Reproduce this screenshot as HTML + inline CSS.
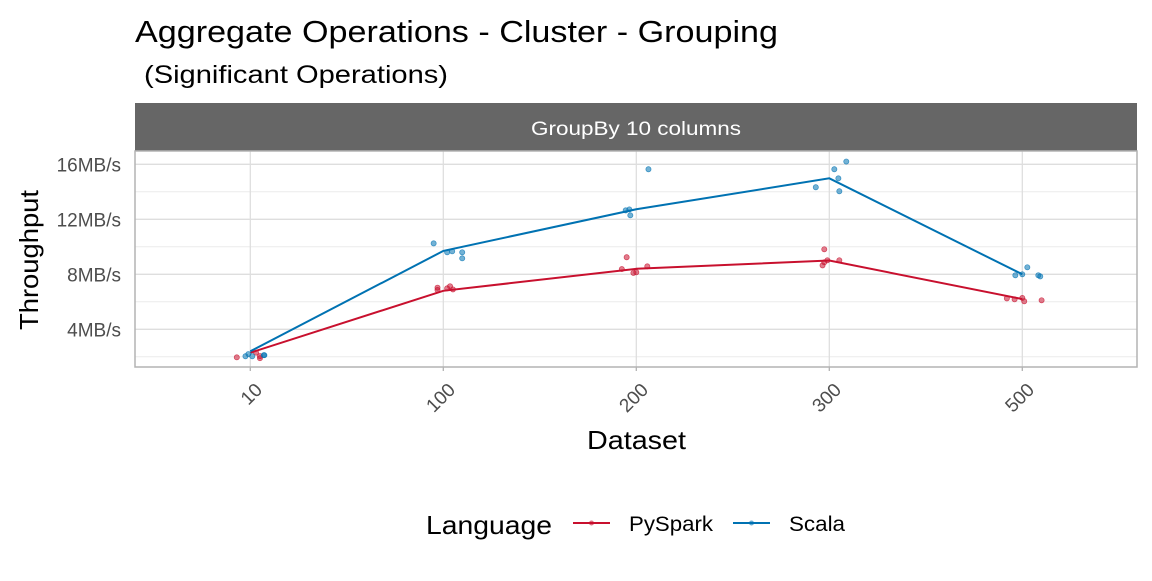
<!DOCTYPE html>
<html><head><meta charset="utf-8"><style>
body{margin:0;background:#fff;width:1152px;height:576px;overflow:hidden}
text{font-family:"Liberation Sans",Arial,sans-serif}
</style></head><body>
<svg id="chart" width="1152" height="576" xmlns="http://www.w3.org/2000/svg">
<text x="135" y="42" font-size="31" fill="#000" textLength="643" lengthAdjust="spacingAndGlyphs">Aggregate Operations - Cluster - Grouping</text>
<text x="144" y="83" font-size="25" fill="#000" textLength="304" lengthAdjust="spacingAndGlyphs">(Significant Operations)</text>
<rect x="135" y="103" width="1002" height="48" fill="#666666"/>
<text x="531" y="135" font-size="19" fill="#fff" textLength="210" lengthAdjust="spacingAndGlyphs">GroupBy 10 columns</text>
<g id="grid"></g>
<g id="marks"></g>
<rect x="135" y="151" width="1002" height="216" fill="none" stroke="#b3b3b3" stroke-width="1.5"/>
<g id="axes"></g>
<text transform="translate(38,190) rotate(-90)" font-size="26" text-anchor="end" fill="#000" textLength="140" lengthAdjust="spacingAndGlyphs">Throughput</text>
<text x="587" y="449" font-size="26" fill="#000" textLength="99" lengthAdjust="spacingAndGlyphs">Dataset</text>
<g>
<text x="426" y="534" font-size="26" fill="#000" textLength="126" lengthAdjust="spacingAndGlyphs">Language</text>
<g>
<line x1="573" y1="523" x2="610" y2="523" stroke="#C8102E" stroke-width="2"/><circle cx="591.5" cy="523" r="2.5" fill="#C8102E" fill-opacity="0.6"/>
<text x="629" y="531" font-size="21" fill="#000" textLength="84" lengthAdjust="spacingAndGlyphs">PySpark</text></g>
<g>
<line x1="733" y1="523" x2="770" y2="523" stroke="#0072B2" stroke-width="2"/><circle cx="751.5" cy="523" r="2.5" fill="#0072B2" fill-opacity="0.6"/>
<text x="789" y="531" font-size="21" fill="#000" textLength="56" lengthAdjust="spacingAndGlyphs">Scala</text></g>
</g>
</svg>
<script>
const categories=["10","100","200","300","500"];
const yTicks=[4,8,12,16];
const yMinor=[2,6,10,14];
const pysparkMean=[2.3,6.8,8.4,9.0,6.2];
const scalaMean=[2.4,9.7,12.73,14.98,8.0];
// jittered observations: [categoryIndex, jitterOffset, value]
const pysparkPts=[[0,-0.07,1.96],[0,0.03,2.3],[0,0.05,2.05],[0,0.05,1.9],[1,-0.03,7.03],[1,-0.03,6.86],[1,0.02,6.98],[1,0.035,7.13],[1,0.05,6.9],[2,-0.075,8.38],[2,-0.05,9.24],[2,-0.015,8.1],[2,0.0,8.15],[2,0.057,8.58],[3,-0.035,8.65],[3,-0.026,9.82],[3,-0.026,8.87],[3,-0.01,9.02],[3,0.052,9.02],[4,-0.08,6.25],[4,-0.04,6.18],[4,0.0,6.28],[4,0.01,6.04],[4,0.1,6.11]];
const scalaPts=[[0,-0.025,2.04],[0,-0.01,2.2],[0,0.01,2.04],[0,0.07,2.12],[0,0.073,2.12],[1,-0.05,10.25],[1,0.02,9.6],[1,0.046,9.67],[1,0.098,9.6],[1,0.098,9.16],[2,-0.055,12.65],[2,-0.036,12.72],[2,-0.031,12.29],[2,0.063,15.64],[3,-0.07,14.33],[3,0.026,15.64],[3,0.047,14.98],[3,0.052,14.04],[3,0.088,16.2],[4,-0.036,7.93],[4,0.0,8.0],[4,0.026,8.51],[4,0.083,7.93],[4,0.093,7.85]];
const NS="http://www.w3.org/2000/svg";
const xScale=i=>250.3+193*i;
const yScale=v=>329.3-(v-4)*13.75;
function mk(tag,attrs,parent){const e=document.createElementNS(NS,tag);for(const k in attrs)e.setAttribute(k,attrs[k]);parent.appendChild(e);return e;}
const grid=document.getElementById('grid'),marks=document.getElementById('marks'),axes=document.getElementById('axes');
yMinor.forEach(v=>{const l=mk('line',{x1:135,x2:1137,y1:yScale(v),y2:yScale(v),stroke:'#ebebeb','stroke-width':1},grid);

});
yTicks.forEach(v=>{const l=mk('line',{x1:135,x2:1137,y1:yScale(v),y2:yScale(v),stroke:'#dedede','stroke-width':1.3},grid);


const t=mk('text',{x:121,y:yScale(v)+7,'font-size':19,fill:'#4d4d4d','text-anchor':'end'},axes);


t.textContent=v+'MB/s';});
categories.forEach((c,i)=>{const x=xScale(i);
const l=mk('line',{x1:x,x2:x,y1:151,y2:367,stroke:'#dedede','stroke-width':1.3},grid);


const tk=mk('line',{x1:x,x2:x,y1:367,y2:371,stroke:'#b3b3b3','stroke-width':1.3},axes);


const t=mk('text',{transform:`translate(${x+13},${391}) rotate(-45)`,'font-size':19,fill:'#4d4d4d','text-anchor':'end'},axes);


t.textContent=c;});
function series(name,means,pts,color){
const p=mk('polyline',{points:means.map((v,i)=>xScale(i)+','+yScale(v)).join(' '),fill:'none',stroke:color,'stroke-width':2},marks);


pts.forEach(d=>{const c=mk('circle',{cx:xScale(d[0]+d[1]),cy:yScale(d[2]),r:2.6,fill:color,'fill-opacity':0.55,stroke:color,'stroke-opacity':0.7,'stroke-width':0.7},marks);

});}
series('pyspark',pysparkMean,pysparkPts,'#C8102E');
series('scala',scalaMean,scalaPts,'#0072B2');
</script>
</body></html>
